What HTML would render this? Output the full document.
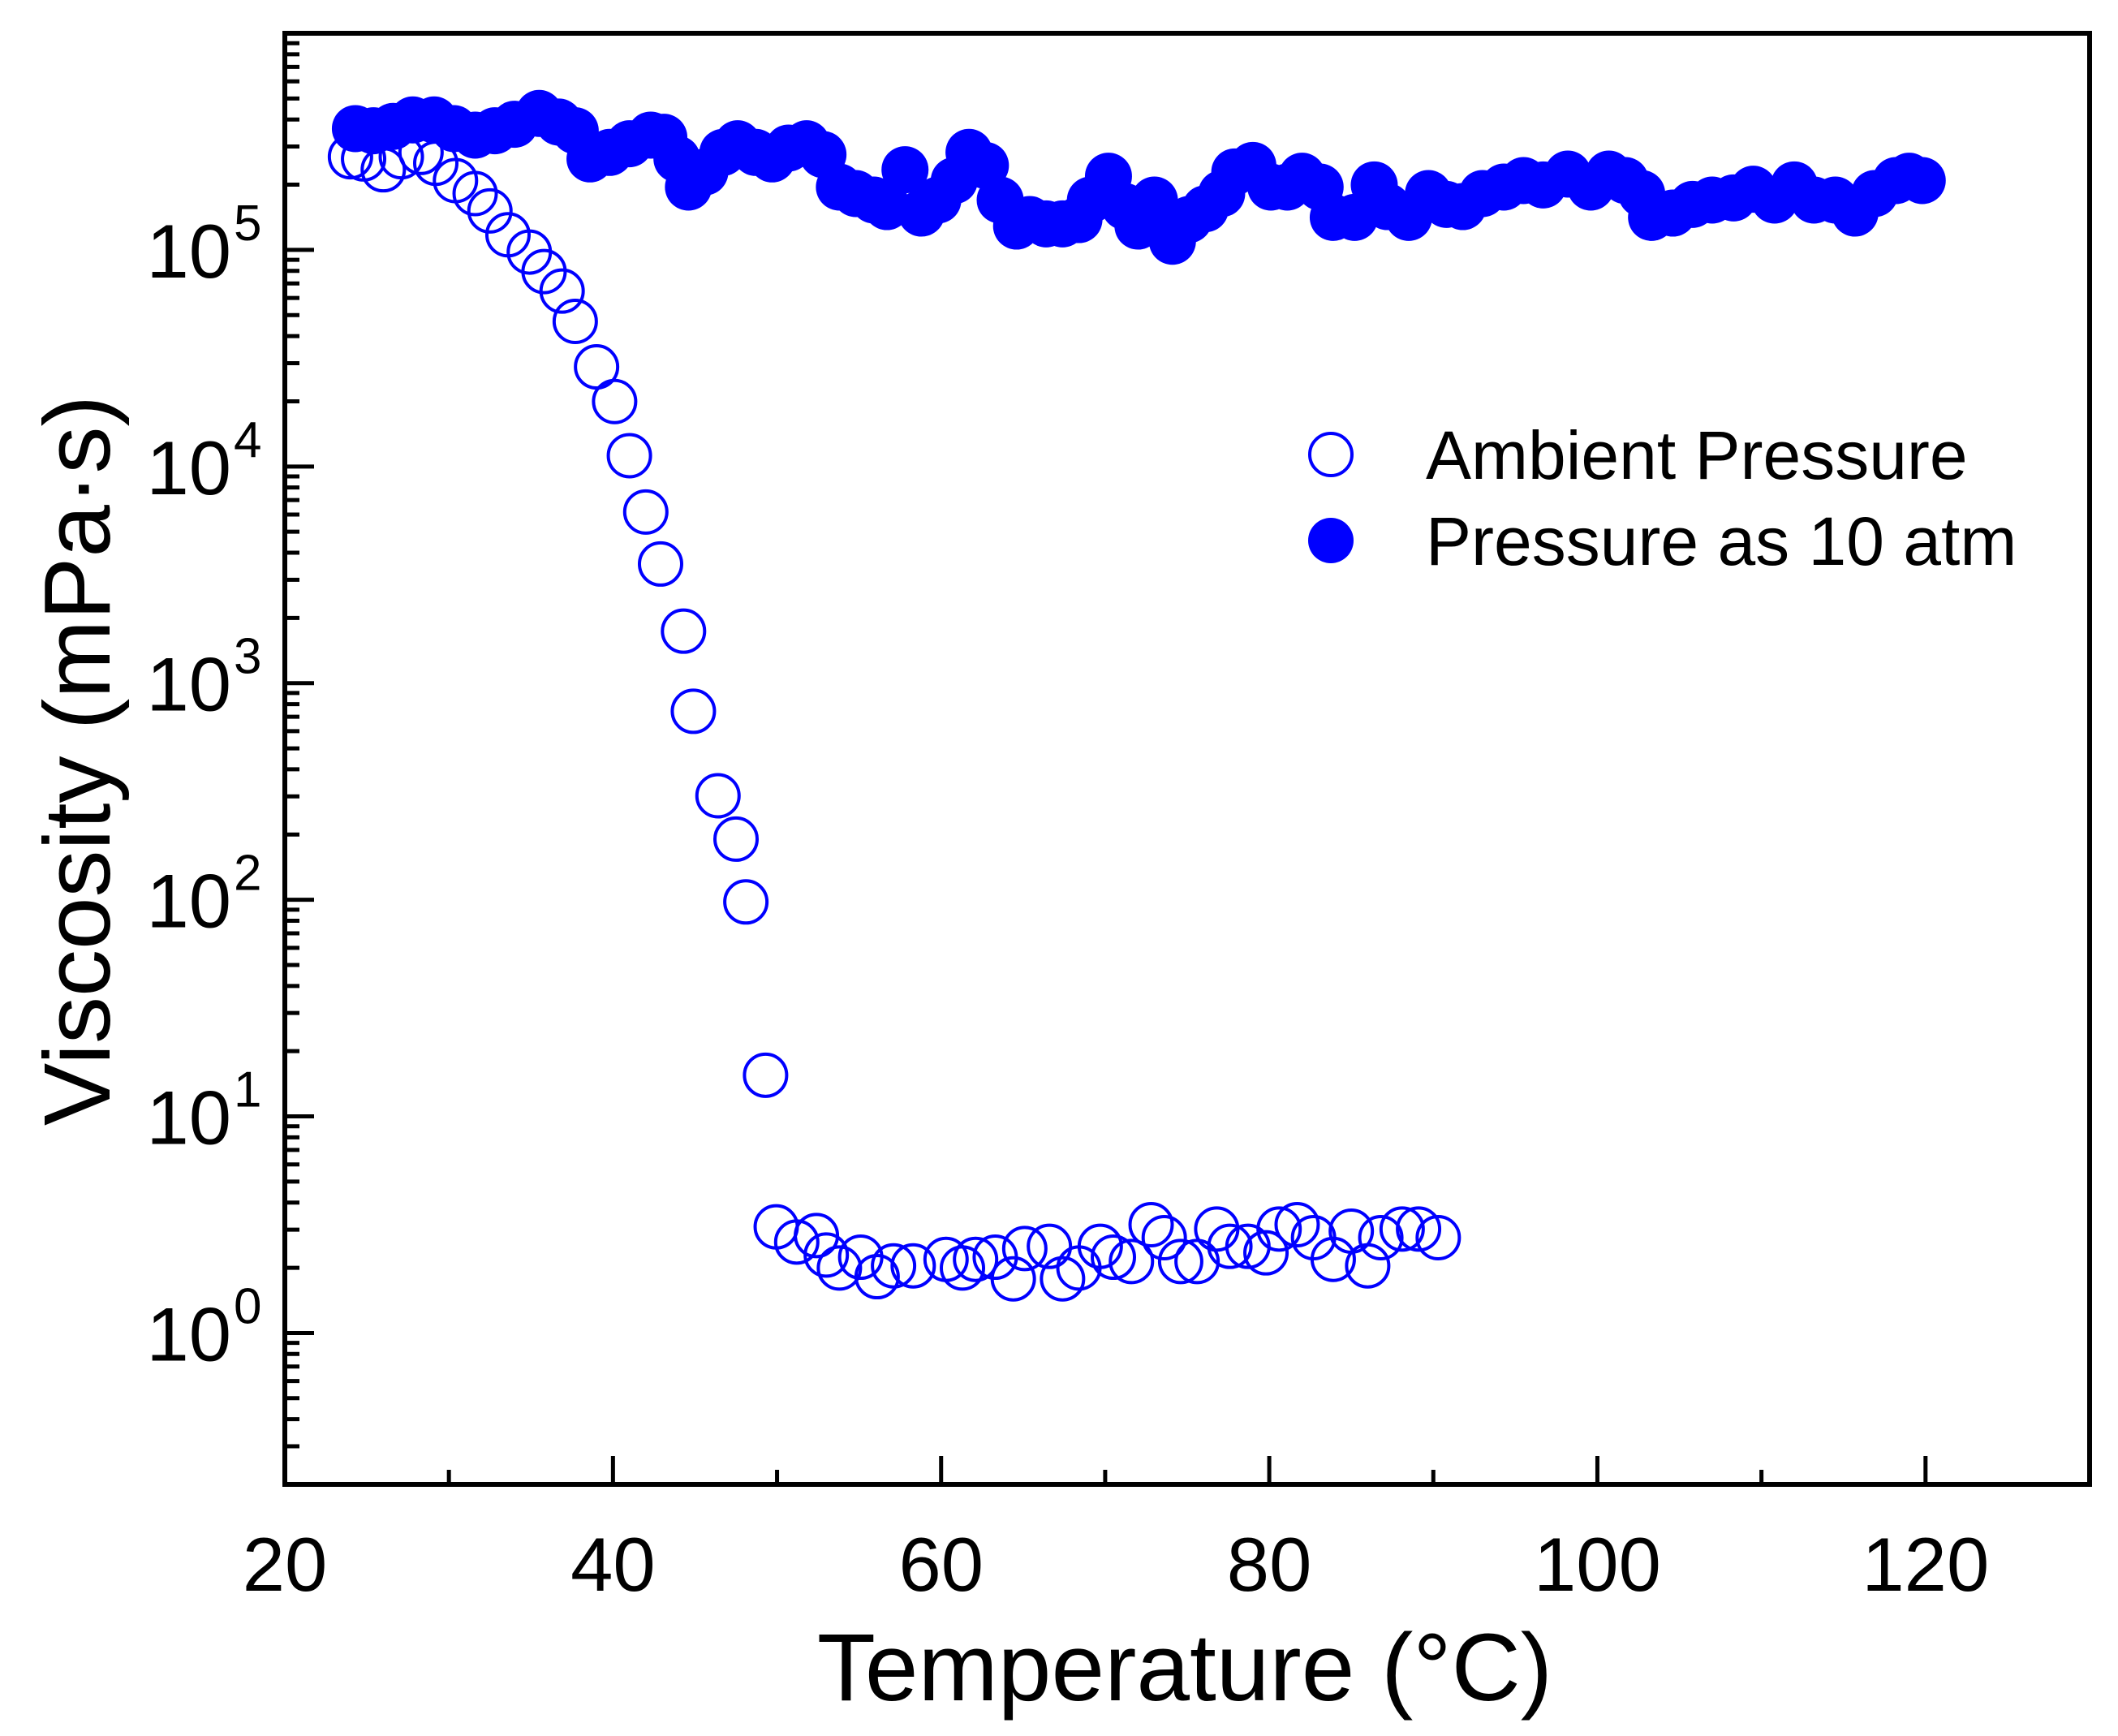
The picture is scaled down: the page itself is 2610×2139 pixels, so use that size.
<!DOCTYPE html>
<html><head><meta charset="utf-8"><style>
body{margin:0;background:#fff}
svg{display:block;font-family:"Liberation Sans",Arial,sans-serif}
</style></head><body>
<svg id="chart" width="2610" height="2139" viewBox="0 0 2610 2139" xmlns="http://www.w3.org/2000/svg">
<rect width="2610" height="2139" fill="#fff"/>
<g id="marks"></g>
<g id="axes"></g>
<text x="1460" y="2095" font-size="118" text-anchor="middle">Temperature (°C)</text>
<text transform="translate(135,937) rotate(-90)" font-size="116" text-anchor="middle">Viscosity (mPa·s)</text>
<g>
<circle cx="1640" cy="560" r="26" fill="none" stroke="#0000ff" stroke-width="4"/>
<text x="1757" y="590" font-size="84">Ambient Pressure</text>
<circle cx="1640" cy="666" r="28" fill="#0000ff"/>
<text x="1757" y="696" font-size="84">Pressure as 10 atm</text>
</g>
</svg>
<script>
const ambientTemp=[24.0,24.8,26.0,27.1,28.3,29.2,30.4,31.6,32.5,33.6,34.9,35.8,36.9,37.7,39.0,40.1,41.0,42.0,42.9,44.3,44.9,46.4,47.5,48.1,49.3,49.95,51.2,52.4,53.0,53.8,55.1,56.1,57.1,58.3,60.3,61.3,62.1,63.3,64.4,65.1,66.6,67.4,68.4,69.7,70.5,71.6,72.8,73.6,74.6,75.6,76.8,77.6,78.7,79.8,80.6,81.7,82.7,83.9,85.0,86.0,86.8,88.1,89.1,90.3];
const ambientLog10=[5.43,5.42,5.37,5.43,5.45,5.40,5.32,5.26,5.18,5.07,4.99,4.90,4.81,4.67,4.46,4.30,4.05,3.79,3.55,3.24,2.87,2.48,2.28,1.99,1.19,0.49,0.42,0.45,0.36,0.30,0.35,0.26,0.31,0.31,0.34,0.30,0.34,0.35,0.25,0.39,0.40,0.25,0.30,0.40,0.35,0.33,0.50,0.44,0.33,0.33,0.48,0.40,0.40,0.37,0.48,0.50,0.44,0.34,0.47,0.31,0.44,0.48,0.48,0.44];
const pressTemp=[24.3,25.4,26.6,27.8,29.1,30.3,31.6,32.8,34.0,35.5,36.7,37.7,38.6,39.8,41.0,42.3,43.1,43.9,44.6,45.6,46.7,47.6,48.7,49.7,50.7,51.8,52.8,53.8,54.8,55.9,56.7,57.8,58.8,59.8,60.8,61.7,62.7,63.6,64.6,65.4,66.4,67.4,68.4,69.1,70.2,71.2,72.0,73.0,74.1,75.1,76.1,77.1,77.9,79.0,80.1,81.1,82.0,83.1,83.9,85.2,86.4,87.2,88.5,89.7,90.8,91.8,93.0,94.3,95.5,96.7,98.2,99.6,100.7,101.7,102.7,103.3,104.6,105.8,107.0,108.3,109.5,110.8,112.0,113.2,114.5,115.7,116.9,118.2,119.0,119.8];
const pressLog10=[5.56,5.55,5.57,5.60,5.60,5.56,5.53,5.55,5.58,5.63,5.59,5.55,5.42,5.45,5.49,5.53,5.52,5.42,5.29,5.36,5.45,5.49,5.45,5.42,5.47,5.49,5.44,5.29,5.26,5.23,5.20,5.37,5.17,5.23,5.32,5.45,5.39,5.23,5.11,5.14,5.12,5.12,5.14,5.23,5.34,5.20,5.11,5.23,5.04,5.14,5.19,5.26,5.36,5.39,5.29,5.29,5.34,5.29,5.15,5.15,5.30,5.20,5.15,5.26,5.21,5.20,5.26,5.29,5.32,5.30,5.35,5.29,5.35,5.32,5.26,5.15,5.17,5.21,5.23,5.24,5.28,5.23,5.30,5.23,5.23,5.17,5.26,5.32,5.34,5.32];
const xTicks=[20,40,60,80,100,120];
const yTickExps=[0,1,2,3,4,5];

const NS="http://www.w3.org/2000/svg";
const L=351,R=2575,T=41,B=1829;
const xMin=20,xMax=130,yMinLog=Math.log10(0.2),yMaxLog=6;
const xs=v=>L+(v-xMin)/(xMax-xMin)*(R-L);
const ys=lg=>B-(lg-yMinLog)/(yMaxLog-yMinLog)*(B-T);
function mk(tag,attrs,parent){const e=document.createElementNS(NS,tag);for(const k in attrs)e.setAttribute(k,attrs[k]);parent.appendChild(e);return e;}
const marks=document.getElementById('marks'),axes=document.getElementById('axes');

pressTemp.forEach((t,i)=>{
  const c=mk('circle',{cx:xs(t),cy:ys(pressLog10[i]),r:29,fill:'#0000ff'},marks);
  
  
});
ambientTemp.forEach((t,i)=>{
  const c=mk('circle',{cx:xs(t),cy:ys(ambientLog10[i]),r:26,fill:'none',stroke:'#0000ff','stroke-width':4},marks);
  
  
});

const frame=mk('rect',{x:L,y:T,width:R-L,height:B-T,fill:'none',stroke:'#000','stroke-width':6},axes);



for(let v=20;v<=130;v+=10){
  const major=xTicks.includes(v);
  const tk=mk('line',{x1:xs(v),x2:xs(v),y1:B,y2:B-(major?35:18),stroke:'#000','stroke-width':5},axes);
  
  
}
xTicks.forEach(v=>{
  const t=mk('text',{x:xs(v),y:1960,'font-size':94,'text-anchor':'middle'},axes);
  t.textContent=v;
  
  
});
for(let e=-1;e<=5;e++){
  for(let m=1;m<=9;m++){
    const lg=e+Math.log10(m);
    if(lg<yMinLog-1e-9||lg>yMaxLog+1e-9)continue;
    const y=ys(lg);
    const tk=mk('line',{x1:L,x2:L+(m===1?36:18),y1:y,y2:y,stroke:'#000','stroke-width':5},axes);
    
    
  }
}
yTickExps.forEach(e=>{
  const y=ys(e);
  const t=mk('text',{x:285,y:y+34,'font-size':94,'text-anchor':'end'},axes);
  t.textContent='10';
  
  
  const s=mk('text',{x:288,y:y-12,'font-size':62,'text-anchor':'start'},axes);
  s.textContent=e;
  
  
});
</script>
</body></html>
